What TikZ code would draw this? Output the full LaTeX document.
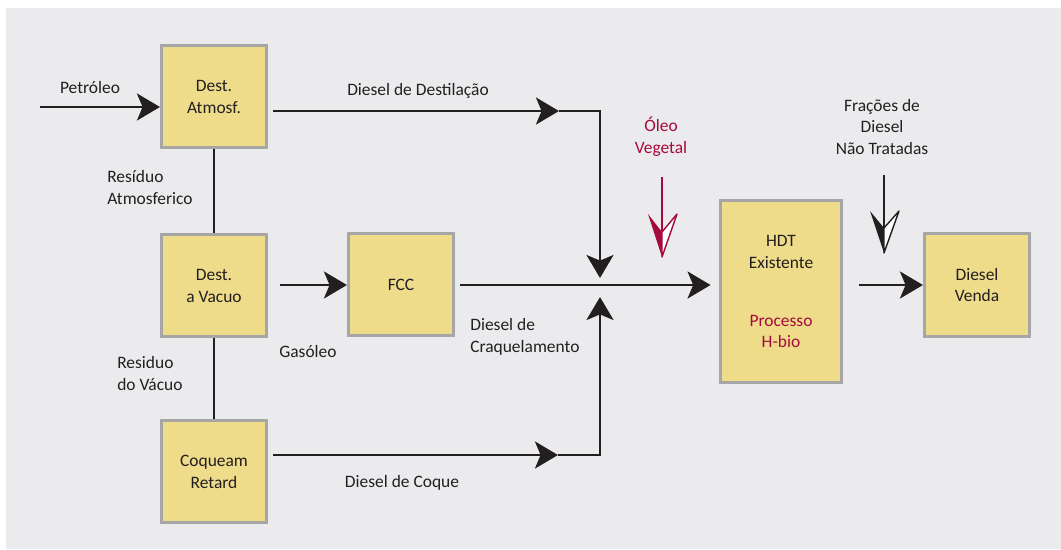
\documentclass[tikz,border=0pt]{standalone}
\usepackage{fontspec}
\setmainfont{Carlito}
\usepackage{xcolor}
\usetikzlibrary{arrows.meta}
\definecolor{panel}{HTML}{EBEBED}
\definecolor{boxfill}{HTML}{EEDC8B}
\definecolor{boxgray}{HTML}{A6A6A6}
\definecolor{ink}{HTML}{231F20}
\definecolor{oil}{HTML}{A6093D}
\tikzstyle{unit} = [draw=boxgray, fill=boxfill, line width=2pt, rectangle,
    minimum width=2.63cm, minimum height=2.555cm, align=center,
    text=ink, font=\fontsize{12.4}{15.6}\selectfont]
\tikzstyle{lbl} = [text=ink, align=left, inner sep=0pt, font=\fontsize{12.4}{15.6}\selectfont]
\tikzstyle{pipe} = [draw=ink, line width=2pt]
\tikzstyle{flow} = [pipe, -{Stealth[length=0.575cm, width=0.675cm, inset=0.14cm]}]

\begin{document}
\begin{tikzpicture}[x=0.025cm, y=-0.025cm]
\useasboundingbox (0,0) rectangle (1061,549);
\fill[panel] (6,8) rectangle (1061,549);

\node [unit] (atm) at (214,96.5) {Dest.\\Atmosf.};
\node [unit] (vac) at (214,285.5) {Dest.\\a Vacuo};
\node [unit] (coq) at (214,471.5) {Coqueam\\Retard};
\node [unit] (fcc) at (401,284.5) {FCC};
\node [unit, minimum width=3.03cm, minimum height=4.555cm] (hdt) at (781,291.5)
    {HDT\\Existente\\[0.9cm]{\color{oil}Processo}\\{\color{oil}H-bio}};
\node [unit] (venda) at (977,285) {Diesel\\Venda};

\node [lbl, align=center] (petro) at (90,88) {Petróleo};
\node [lbl, align=center] (destil) at (418,91) {Diesel de Destilação};
\node [lbl, anchor=west] (resatm) at (107,187.5) {Resíduo\\Atmosferico};
\node [lbl, align=center] (gasol) at (308,352) {Gasóleo};
\node [lbl, anchor=west] (craq) at (470,336.5) {Diesel de\\Craquelamento};
\node [lbl, anchor=west] (resvac) at (117,373.5) {Residuo\\do Vácuo};
\node [lbl, align=center] (dcoque) at (402,483) {Diesel de Coque};
\node [lbl, align=center, text=oil] (oleo) at (661,137) {Óleo\\Vegetal};
\node [lbl, align=center] (frac) at (882,127) {Frações de\\Diesel\\Não Tratadas};

\coordinate (crude) at (40,107);
\coordinate (distA) at (273,111);
\coordinate (distB) at (559,111);
\coordinate (distC) at (600,111);
\coordinate (mixA) at (600,278);
\coordinate (gasA) at (280,285);
\coordinate (crackA) at (460,285);
\coordinate (coqA) at (273,455);
\coordinate (coqB) at (558,455);
\coordinate (coqC) at (600,455);
\coordinate (mixB) at (600,297);
\coordinate (oilA) at (662,177);
\coordinate (oilB) at (662,232);
\coordinate (fracA) at (884,175);
\coordinate (fracB) at (884,228);
\coordinate (hdtOut) at (859,285);

\draw[flow] (crude) -- (crude -| atm.west);
\draw[flow] (distA) -- (distB);
\draw[flow] (distB) -- (distC) -- (mixA);
\draw[pipe] (atm.south) -- (vac.north);
\draw[flow] (gasA) -- (fcc.west |- gasA);
\draw[flow, shorten >=0.21cm] (crackA) -- (hdt.west |- crackA);
\draw[pipe] (vac.south) -- (coq.north);
\draw[flow] (coqA) -- (coqB);
\draw[flow] (coqB) -- (coqC) -- (mixB);
\draw[flow] (hdtOut) -- (venda.west |- hdtOut);

\draw[pipe, draw=oil] (oilA) -- (oilB);
\fill[oil] (662,257) -- (648,214) -- (oilB) -- cycle;
\filldraw[fill=white, draw=oil, line width=1pt, line join=round] (662,257) -- (677,214) -- (oilB) -- cycle;

\draw[pipe] (fracA) -- (fracB);
\fill[ink] (884,253) -- (870,211) -- (fracB) -- cycle;
\filldraw[fill=white, draw=ink, line width=1pt, line join=round] (884,253) -- (899,211) -- (fracB) -- cycle;
\end{tikzpicture}
\end{document}
